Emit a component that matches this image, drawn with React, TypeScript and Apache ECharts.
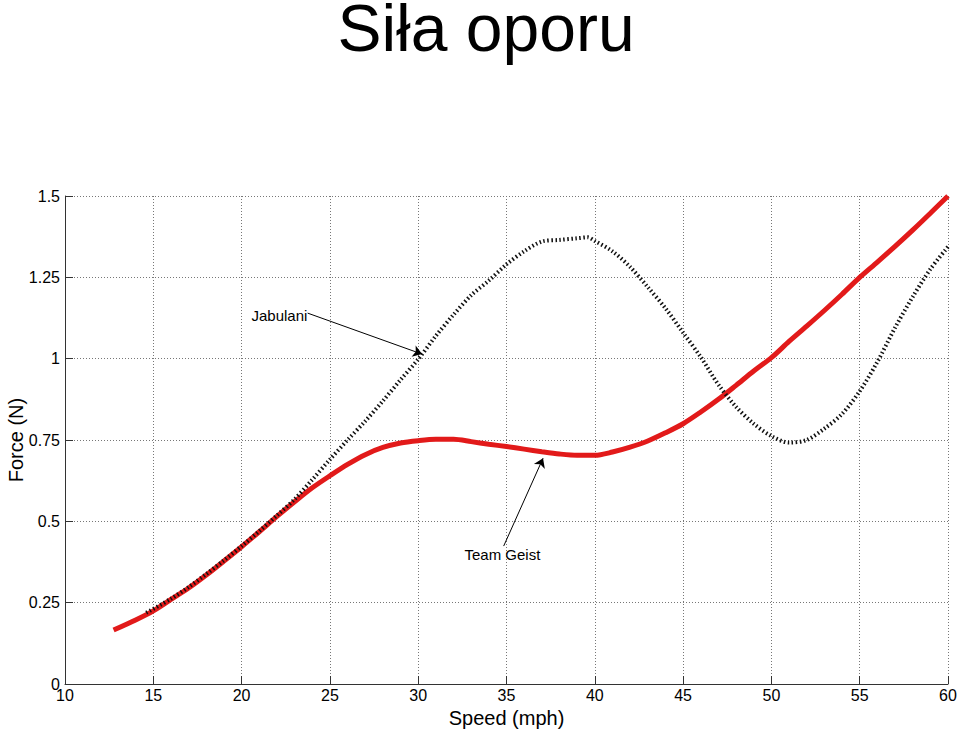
import React, { useEffect, useRef } from "react";
import * as echarts from "echarts";

const titleText = "Siła oporu";
const xAxisName = "Speed (mph)";
const yAxisName = "Force (N)";

const teamGeistName = "Team Geist";
const teamGeistX = [12.75, 14, 15, 16, 17, 18, 19, 20, 21, 22, 23, 24, 25, 26, 27, 28, 29, 30, 31, 32, 33, 34, 35, 36, 37, 38, 39, 40, 41, 42, 43, 44, 45, 46, 47, 48, 49, 50, 51, 52, 53, 54, 55, 56, 57, 58, 59, 60];
const teamGeistY = [0.166, 0.197, 0.225, 0.26, 0.295, 0.335, 0.378, 0.422, 0.468, 0.515, 0.56, 0.603, 0.64, 0.675, 0.705, 0.727, 0.741, 0.748, 0.752, 0.752, 0.745, 0.737, 0.73, 0.722, 0.714, 0.707, 0.703, 0.703, 0.713, 0.728, 0.747, 0.772, 0.8, 0.836, 0.875, 0.918, 0.962, 1.003, 1.053, 1.1, 1.148, 1.198, 1.25, 1.297, 1.345, 1.395, 1.447, 1.5];

const jabulaniName = "Jabulani";
const jabulaniX = [14.6, 16, 17, 18, 19, 20, 21, 22, 23, 24, 25, 26, 27, 28, 29, 30, 31, 32, 33, 34, 35, 36, 37, 38, 39, 39.6, 40, 41, 42, 43, 44, 45, 46, 47, 48, 49, 50, 51, 52, 53, 54, 55, 56, 57, 58, 59, 60];
const jabulaniY = [0.219, 0.262, 0.298, 0.338, 0.38, 0.424, 0.47, 0.518, 0.568, 0.628, 0.69, 0.75, 0.808, 0.87, 0.935, 0.998, 1.07, 1.135, 1.195, 1.24, 1.29, 1.33, 1.36, 1.365, 1.37, 1.373, 1.362, 1.33, 1.282, 1.22, 1.155, 1.08, 1.005, 0.92, 0.852, 0.8, 0.762, 0.742, 0.75, 0.785, 0.83, 0.9, 0.99, 1.095, 1.19, 1.275, 1.344];

// annotation anchors in data coordinates
const jabulaniLabelAt = [22.14, 1.134];
const jabulaniArrowFrom = [23.74, 1.14];
const jabulaniArrowTo = [30.22, 1.014];
const geistLabelAt = [34.77, 0.397];
const geistArrowFrom = [34.84, 0.424];
const geistArrowTo = [37.07, 0.694];

const FONT = "'Liberation Sans', Arial, sans-serif";

function zip(xs: number[], ys: number[]) {
  return xs.map((x, i) => [x, ys[i]]);
}

function annotation(label: string, at: number[], from: number[], to: number[]) {
  return {
    markPoint: {
      silent: true,
      symbol: "circle",
      symbolSize: 1,
      itemStyle: { color: "rgba(0,0,0,0)" },
      label: {
        show: true,
        position: "inside",
        formatter: label,
        color: "#000",
        fontFamily: FONT,
        fontSize: 15,
      },
      data: [{ coord: at }],
    },
    markLine: {
      silent: true,
      symbol: ["none", "arrow"],
      symbolSize: 9,
      label: { show: false },
      lineStyle: { color: "#000", width: 1, type: "solid" },
      data: [[{ coord: from }, { coord: to }]],
    },
  };
}

export default function App() {
  const ref = useRef<HTMLDivElement>(null);
  useEffect(() => {
    if (!ref.current) return;
    const chart = echarts.init(ref.current, null, { renderer: "svg" });
    chart.setOption({
      animation: false,
      backgroundColor: "#fff",
      graphic: [
        {
          type: "text",
          x: 486,
          y: 28,
          style: {
            text: titleText,
            font: `66px ${FONT}`,
            lineHeight: 56,
            fill: "#000",
            align: "center",
            verticalAlign: "middle",
          },
        },
        {
          type: "text",
          x: 16,
          y: 440,
          rotation: Math.PI / 2,
          style: {
            text: yAxisName,
            font: `20px ${FONT}`,
            fill: "#000",
            align: "center",
            verticalAlign: "middle",
          },
        },
      ],
      grid: { left: 65, right: 12, top: 196, bottom: 51, outerBoundsMode: "none", containLabel: false },
      xAxis: {
        type: "value",
        min: 10,
        max: 60,
        interval: 5,
        name: xAxisName,
        nameLocation: "middle",
        nameGap: 23,
        nameTextStyle: { fontFamily: FONT, fontSize: 20, color: "#000" },
        axisLine: { show: true, onZero: false, lineStyle: { color: "#333", width: 1 } },
        axisTick: { show: true, inside: true, length: 8, lineStyle: { color: "#333" } },
        axisLabel: { fontFamily: FONT, fontSize: 16, color: "#000", margin: 3 },
        splitLine: { show: true, lineStyle: { color: "#777", width: 1, type: [1, 2] } },
      },
      yAxis: {
        type: "value",
        min: 0,
        max: 1.5,
        interval: 0.25,
        axisLine: { show: true, onZero: false, lineStyle: { color: "#333", width: 1 } },
        axisTick: { show: true, inside: true, length: 8, lineStyle: { color: "#333" } },
        axisLabel: { fontFamily: FONT, fontSize: 16, color: "#000", margin: 5 },
        splitLine: { show: true, lineStyle: { color: "#777", width: 1, type: [1, 2] } },
      },
      series: [
        {
          name: teamGeistName,
          type: "line",
          data: zip(teamGeistX, teamGeistY),
          smooth: 0.3,
          showSymbol: false,
          symbol: "none",
          lineStyle: { color: "#e21a1a", width: 5 },
          z: 2,
          ...annotation(teamGeistName, geistLabelAt, geistArrowFrom, geistArrowTo),
        },
        {
          name: jabulaniName,
          type: "line",
          data: zip(jabulaniX, jabulaniY),
          smooth: 0.3,
          showSymbol: false,
          symbol: "none",
          lineStyle: { color: "#111", width: 4, type: [1.5, 2.5], cap: "butt" },
          z: 3,
          ...annotation(jabulaniName, jabulaniLabelAt, jabulaniArrowFrom, jabulaniArrowTo),
        },
      ],
    });
    return () => chart.dispose();
  }, []);
  return (
    <div
      ref={ref}
      style={{ position: "fixed", left: 0, top: 0, width: 960, height: 735, background: "#fff" }}
    />
  );
}
